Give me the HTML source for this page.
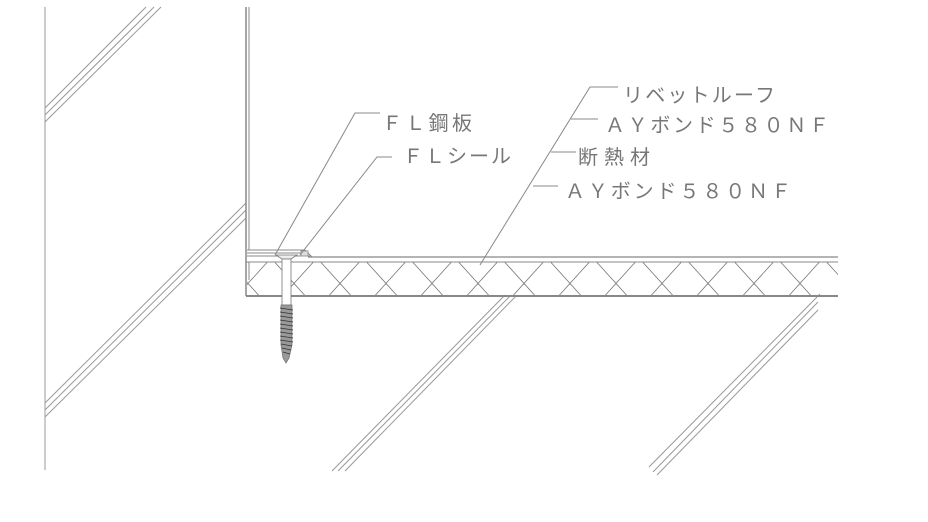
<!DOCTYPE html>
<html><head><meta charset="utf-8"><style>html,body{margin:0;padding:0;background:#fff}svg{display:block}</style></head><body>
<svg width="928" height="522" viewBox="0 0 928 522" xmlns="http://www.w3.org/2000/svg">
<defs><clipPath id="band"><rect x="247" y="262" width="591" height="34"/></clipPath></defs>
<g stroke="#999" stroke-width="1" fill="none">
<line x1="45" y1="7" x2="45" y2="470"/>
<line x1="146" y1="7" x2="45" y2="108"/><line x1="154" y1="7" x2="45" y2="115"/><line x1="161" y1="7" x2="45" y2="122"/>
<line x1="246" y1="203" x2="45" y2="403"/><line x1="246" y1="210" x2="45" y2="410"/><line x1="246" y1="218" x2="45" y2="417"/>
<line x1="505" y1="295" x2="332" y2="471"/><line x1="511" y1="295" x2="338" y2="471"/><line x1="517" y1="295" x2="345" y2="471"/>
<line x1="820" y1="294" x2="649" y2="467"/><line x1="818" y1="302" x2="653" y2="472"/><line x1="818" y1="310" x2="657" y2="475"/>
</g>
<g stroke="#777" stroke-width="0.8" fill="none" clip-path="url(#band)">
<path d="M225 258 L263 300 M225 258 L187 300 M271 258 L309 300 M271 258 L233 300 M317 258 L355 300 M317 258 L279 300 M363 258 L401 300 M363 258 L325 300 M409 258 L447 300 M409 258 L371 300 M455 258 L493 300 M455 258 L417 300 M501 258 L539 300 M501 258 L463 300 M547 258 L585 300 M547 258 L509 300 M593 258 L631 300 M593 258 L555 300 M639 258 L677 300 M639 258 L601 300 M685 258 L723 300 M685 258 L647 300 M731 258 L769 300 M731 258 L693 300 M777 258 L815 300 M777 258 L739 300 M823 258 L861 300 M823 258 L785 300"/>
</g>
<g stroke="#888" fill="none">
<line x1="246" y1="7" x2="246" y2="296" stroke-width="1.5"/>
<line x1="249" y1="7" x2="249" y2="250"/>
<line x1="249" y1="262" x2="249" y2="280"/>
<line x1="308" y1="257" x2="838" y2="257" stroke-width="1.3"/>
<line x1="310" y1="262" x2="838" y2="262"/>
<line x1="246" y1="262" x2="310" y2="262"/>
<line x1="246" y1="296" x2="838" y2="296" stroke-width="2"/>
<path d="M247 250 L305 250 L312 257"/>
<path d="M247 253 L304 253 L309 257"/>
<path d="M247 256 L310 256"/>
<rect x="301" y="251" width="7" height="5" fill="#ddd" stroke="#999"/>
</g>
<g stroke="#777" fill="none" stroke-width="0.8">
<path d="M276 255 L297 255 L291 259 L282 259 Z" fill="#eee"/>
<rect x="282" y="259" width="9" height="46" fill="#fff"/>
<path d="M281 305 L292 305 L292 345 L289 358 L286 363 L283 358 L281 345 Z" fill="#999"/>
<path d="M280 308 L293 310 M280 312 L293 314 M280 316 L293 318 M280 320 L293 322 M280 324 L293 326 M280 328 L293 330 M280 332 L293 334 M280 336 L293 338 M280 340 L293 342 M281 344 L292 346 M282 348 L291 350 M283 352 L290 354" stroke="#333"/>
</g>
<g stroke="#888" stroke-width="1" fill="none">
<path d="M275 255 L355 113 L380 113"/>
<path d="M300 255 L377 157 L392 157"/>
<path d="M480 265 L590 87 L618 87"/>
<path d="M571 119 L598 119"/>
<path d="M551 152 L576 152"/>
<path d="M533 186 L558 186"/>
</g>
<g font-family="Liberation Sans, Noto Sans CJK JP, sans-serif" font-size="20" fill="#777">
<text x="382" y="130" textLength="90" lengthAdjust="spacing">ＦＬ鋼板</text>
<text x="403" y="163" textLength="108" lengthAdjust="spacing">ＦＬシール</text>
<text x="623" y="102" textLength="152" lengthAdjust="spacing">リベットルーフ</text>
<text x="605" y="132" textLength="224" lengthAdjust="spacing">ＡＹボンド５８０ＮＦ</text>
<text x="578" y="164" textLength="72" lengthAdjust="spacing">断熱材</text>
<text x="565" y="198" textLength="226" lengthAdjust="spacing">ＡＹボンド５８０ＮＦ</text>
</g>
</svg>
</body></html>
